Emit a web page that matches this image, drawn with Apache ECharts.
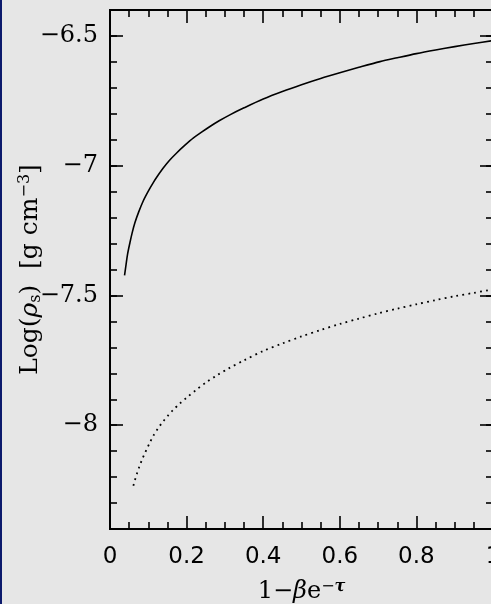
<!DOCTYPE html>
<html>
<head>
<meta charset="utf-8">
<script src="https://cdn.jsdelivr.net/npm/echarts@6/dist/echarts.min.js"></script>
<style>
html,body{margin:0;padding:0;background:#e6e6e6;}
#wrap{position:relative;width:491px;height:604px;background:#e6e6e6;}
#bar{position:absolute;left:0;top:0;width:2px;height:604px;background:#0c1a6c;}
#c{position:absolute;left:0;top:0;width:491px;height:604px;}
</style>
</head>
<body>
<div id="wrap"><div id="c"></div><div id="bar"></div></div>
<script>
// Solid curve: x = 1 - beta e^-tau, y = log(rho_s)
const solidX = [0.038, 0.042, 0.046, 0.052, 0.058, 0.065, 0.075, 0.087, 0.1, 0.113, 0.125, 0.139, 0.155, 0.174, 0.195, 0.218, 0.24, 0.261, 0.285, 0.313, 0.35, 0.4, 0.45, 0.5, 0.55, 0.6, 0.65, 0.705, 0.75, 0.8, 0.85, 0.9, 0.95, 1.0];
const solidY = [-7.423, -7.38, -7.34, -7.297, -7.258, -7.22, -7.178, -7.135, -7.098, -7.065, -7.038, -7.009, -6.98, -6.951, -6.922, -6.893, -6.870, -6.849, -6.827, -6.804, -6.777, -6.743, -6.714, -6.688, -6.664, -6.642, -6.621, -6.599, -6.584, -6.568, -6.554, -6.541, -6.529, -6.518];
// Dotted curve
const dotX = [0.061, 0.065, 0.070, 0.076, 0.083, 0.090, 0.096, 0.104, 0.113, 0.125, 0.139, 0.152, 0.165, 0.182, 0.200, 0.225, 0.252, 0.28, 0.31, 0.35, 0.4, 0.45, 0.5, 0.55, 0.6, 0.65, 0.7, 0.75, 0.8, 0.85, 0.9, 0.95, 0.988];
const dotY = [-8.233, -8.212, -8.188, -8.162, -8.135, -8.111, -8.092, -8.067, -8.041, -8.013, -7.985, -7.962, -7.941, -7.917, -7.894, -7.864, -7.834, -7.807, -7.781, -7.750, -7.714, -7.685, -7.658, -7.633, -7.610, -7.589, -7.569, -7.551, -7.534, -7.518, -7.503, -7.490, -7.480];
// Axis ranges
const xMin = 0, xMax = 1, xStep = 0.2;
const yMin = -8.4, yMax = -6.4, yMajor = 0.5, yMinor = 0.1;

const zip = (a, b) => a.map((v, i) => [v, b[i]]);
const lineBlack = {color: '#000', width: 2};
const fmtY = v => (v < 0 ? '\u2212' : '') + String(Math.abs(Math.round(v * 10) / 10));

function xAx(pos, labels) {
  return {
    type: 'value', position: pos, min: xMin, max: xMax, interval: xStep,
    axisLine: {show: true, onZero: false, lineStyle: lineBlack},
    axisTick: {show: true, inside: true, length: 13, lineStyle: {color: '#000', width: 1.6}},
    minorTick: {show: true, splitNumber: 4, length: 7, lineStyle: {color: '#000', width: 1.6}},
    axisLabel: {show: labels, margin: 17, color: '#000', fontFamily: 'DejaVu Sans', fontSize: 23},
    splitLine: {show: false}, minorSplitLine: {show: false}
  };
}
function yMinorAx(pos) {
  return {
    type: 'value', position: pos, min: yMin, max: yMax, interval: yMinor,
    axisLine: {show: true, onZero: false, lineStyle: lineBlack},
    axisTick: {show: true, inside: true, length: 7, lineStyle: {color: '#000', width: 1.6}},
    axisLabel: {show: false}, splitLine: {show: false}
  };
}
function yMajorAx(pos, labels) {
  return {
    type: 'value', position: pos, min: yMin, max: yMax, splitNumber: 4,
    minInterval: yMajor, maxInterval: yMajor,
    axisLine: {show: true, onZero: false, lineStyle: lineBlack},
    axisTick: {show: true, inside: true, length: 13, lineStyle: {color: '#000', width: 1.6}},
    axisLabel: {show: labels, margin: 12, color: '#000', fontFamily: 'DejaVu Serif', fontSize: 24,
      showMinLabel: false, showMaxLabel: false, formatter: fmtY},
    splitLine: {show: false}
  };
}

const chart = echarts.init(document.getElementById('c'), null, {renderer: 'canvas'});
const yName = Object.assign(yMajorAx('left', true), {
  name: '{t|Log(}{i|\u03c1}{sub|s}{t|)  [g cm}{sup|\u22123}{t|]}',
  nameLocation: 'middle', nameRotate: 90, nameGap: 66, nameMoveOverlap: false,
  nameTextStyle: {
    rich: {
      t: {fontFamily: 'DejaVu Serif', fontSize: 25, color: '#000'},
      i: {fontFamily: 'DejaVu Serif', fontStyle: 'italic', fontSize: 25, color: '#000'},
      sub: {fontFamily: 'DejaVu Serif', fontSize: 16, color: '#000', padding: [12, 0, 0, 0]},
      sup: {fontFamily: 'DejaVu Serif', fontSize: 16, color: '#000', padding: [0, 0, 10, 0]}
    }
  }
});
const xName = Object.assign(xAx('bottom', true), {
  name: '{t|1\u2212}{i|\u03b2}{t|e}{sup|\u2212}{sup2|\u03c4}',
  nameLocation: 'middle', nameGap: 50, nameMoveOverlap: false,
  nameTextStyle: {
    rich: {
      t: {fontFamily: 'DejaVu Serif', fontSize: 24, color: '#000'},
      i: {fontFamily: 'DejaVu Serif', fontStyle: 'italic', fontSize: 24, color: '#000'},
      sup: {fontFamily: 'DejaVu Serif', fontSize: 16, color: '#000', padding: [0, 0, 10, 0]},
      sup2: {fontFamily: 'DejaVu Serif', fontStyle: 'italic', fontWeight: 'bold', fontSize: 16, color: '#000', padding: [0, 0, 10, 0]}
    }
  }
});

chart.setOption({
  backgroundColor: '#e6e6e6',
  animation: false,
  grid: {left: 110, top: 10, width: 383, height: 519, containLabel: false, outerBoundsMode: 'none'},
  xAxis: [xName, xAx('top', false)],
  yAxis: [yMinorAx('left'), yName, yMinorAx('right'), yMajorAx('right', false)],
  series: [
    {type: 'line', xAxisIndex: 0, yAxisIndex: 0, data: zip(solidX, solidY), showSymbol: false,
     smooth: 0.3, lineStyle: {color: '#000', width: 1.6}, clip: true},
    {type: 'line', xAxisIndex: 0, yAxisIndex: 0, data: zip(dotX, dotY), showSymbol: false,
     smooth: 0.3, lineStyle: {color: '#000', width: 1.8, type: [1.8, 4.2]}, clip: true}
  ]
});
</script>
</body>
</html>
